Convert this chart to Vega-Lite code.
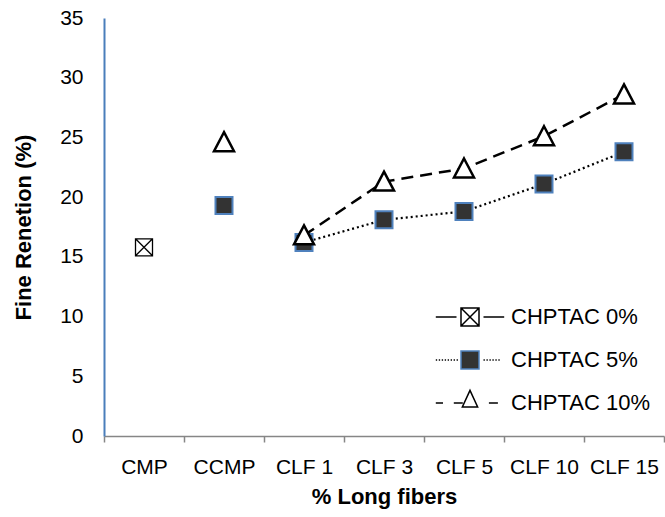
{
  "$schema": "https://vega.github.io/schema/vega-lite/v6.json",
  "width": 560,
  "height": 418,
  "autosize": "none",
  "padding": {"left": 104, "top": 18, "right": 1, "bottom": 81},
  "config": {
    "view": {"stroke": null},
    "font": "Liberation Sans",
    "axis": {"grid": false, "labelColor": "black", "titleColor": "black", "labelFont": "Liberation Sans", "titleFont": "Liberation Sans"},
    "legend": {"labelFont": "Liberation Sans", "labelColor": "black"}
  },
  "data": {
    "values": [
      {"sample": "CMP", "series": "CHPTAC 0%", "value": 15.8},
      {"sample": "CCMP", "series": "CHPTAC 5%", "value": 19.3},
      {"sample": "CCMP", "series": "CHPTAC 10%", "value": 24.6},
      {"sample": "CLF 1", "series": "CHPTAC 5%", "value": 16.2},
      {"sample": "CLF 1", "series": "CHPTAC 10%", "value": 16.8},
      {"sample": "CLF 3", "series": "CHPTAC 5%", "value": 18.1},
      {"sample": "CLF 3", "series": "CHPTAC 10%", "value": 21.3},
      {"sample": "CLF 5", "series": "CHPTAC 5%", "value": 18.8},
      {"sample": "CLF 5", "series": "CHPTAC 10%", "value": 22.4},
      {"sample": "CLF 10", "series": "CHPTAC 5%", "value": 21.1},
      {"sample": "CLF 10", "series": "CHPTAC 10%", "value": 25.1},
      {"sample": "CLF 15", "series": "CHPTAC 5%", "value": 23.8},
      {"sample": "CLF 15", "series": "CHPTAC 10%", "value": 28.6}
    ]
  },
  "encoding": {
    "x": {
      "field": "sample",
      "type": "nominal",
      "sort": ["CMP", "CCMP", "CLF 1", "CLF 3", "CLF 5", "CLF 10", "CLF 15"],
      "scale": {"type": "band", "paddingInner": 0, "paddingOuter": 0},
      "axis": {
        "title": "% Long fibers",
        "titleFontSize": 22,
        "titleFontWeight": "bold",
        "titlePadding": 9,
        "labelFontSize": 21,
        "labelAngle": 0,
        "labelPadding": 14,
        "tickBand": "extent",
        "tickSize": 6,
        "tickWidth": 1.5,
        "tickColor": "#868686",
        "domainColor": "#868686",
        "domainWidth": 1.5
      }
    },
    "y": {
      "field": "value",
      "type": "quantitative",
      "scale": {"domain": [0, 35], "nice": false},
      "axis": {
        "title": "Fine Renetion (%)",
        "titleFontSize": 22,
        "titleFontWeight": "bold",
        "titlePadding": 24,
        "values": [0, 5, 10, 15, 20, 25, 30, 35],
        "labelFontSize": 21,
        "labelPadding": 21,
        "ticks": false,
        "tickSize": 0,
        "domainColor": "#4A7EBB",
        "domainWidth": 2
      }
    }
  },
  "layer": [
    {
      "transform": [{"filter": "datum.series === 'CHPTAC 5%' && datum.sample !== 'CMP' && datum.sample !== 'CCMP'"}],
      "mark": {"type": "line", "color": "black", "strokeWidth": 2.2, "strokeDash": [2, 3]}
    },
    {
      "transform": [{"filter": "datum.series === 'CHPTAC 10%' && datum.sample !== 'CMP' && datum.sample !== 'CCMP'"}],
      "mark": {"type": "line", "color": "black", "strokeWidth": 2.5, "strokeDash": [12, 7]}
    },
    {
      "transform": [{"filter": "datum.series === 'CHPTAC 0%'"}],
      "mark": {"type": "point", "shape": "M-1,-1H1V1H-1ZM-1,-1L1,1M1,-1L-1,1", "size": 289, "filled": true, "fill": "white", "stroke": "black", "strokeWidth": 1.3, "opacity": 1}
    },
    {
      "transform": [{"filter": "datum.series === 'CHPTAC 5%'"}],
      "mark": {"type": "point", "shape": "M-1,-1H1V1H-1Z", "size": 289, "filled": true, "fill": "#333333", "stroke": "#4F81BD", "strokeWidth": 2, "opacity": 1}
    },
    {
      "transform": [{"filter": "datum.series === 'CHPTAC 10%'"}],
      "mark": {"type": "point", "shape": "M0,-1L1,0.9L-1,0.9Z", "size": 400, "filled": true, "fill": "white", "stroke": "black", "strokeWidth": 2.5, "opacity": 1}
    },
    {
      "transform": [{"filter": "false"}],
      "mark": {"type": "point", "filled": true, "fill": "white", "stroke": "black", "strokeWidth": 2, "opacity": 1},
      "encoding": {
        "shape": {
          "field": "series",
          "type": "nominal",
          "scale": {
            "domain": ["CHPTAC 0%", "CHPTAC 5%", "CHPTAC 10%"],
            "range": [
              "M0,-1.4M0,1.4M-3.8,0H-1.5M-1,-1H1V1H-1ZM-1,-1L1,1M1,-1L-1,1M1.5,0H3.8",
              "M0,-1.4M0,1.4M-3.8,0h0.15M-3.47,0h0.15M-3.14,0h0.15M-2.81,0h0.15M-2.48,0h0.15M-2.15,0h0.15M-1.82,0h0.15M-1.49,0h0.15M1.5,0h0.15M1.83,0h0.15M2.16,0h0.15M2.49,0h0.15M2.82,0h0.15M3.15,0h0.15",
              "M0,-1.4M0,1.4M-3.8,0H-3M-1.8,0H-0.8M0,-1.4L0.85,0.45L-0.85,0.45ZM2.1,0H3.1"
            ]
          },
          "legend": {
            "title": null,
            "orient": "none",
            "legendX": 355,
            "legendY": 288,
            "symbolSize": 324,
            "labelOffset": 30,
            "labelFontSize": 22,
            "rowPadding": 11,
            "encode": {
              "symbols": {"update": {"fill": {"value": "white"}, "stroke": {"value": "black"}, "strokeWidth": {"value": 1.8}, "opacity": {"value": 1}}}
            }
          }
        }
      }
    },
    {
      "transform": [{"filter": "false"}],
      "mark": {"type": "point", "filled": true, "fill": "#333333", "stroke": "#4F81BD", "strokeWidth": 2, "opacity": 1},
      "encoding": {
        "shape": {
          "field": "series",
          "type": "nominal",
          "scale": {
            "domain": ["CHPTAC 0%", "CHPTAC 5%", "CHPTAC 10%"],
            "range": ["M0,-1.4M0,1.4M-3.8,0M3.8,0", "M0,-1.4M0,1.4M-3.8,0M3.8,0M-1,-1H1V1H-1Z", "M0,-1.4M0,1.4M-3.8,0M3.8,0"]
          },
          "legend": {
            "title": null,
            "orient": "none",
            "legendX": 355,
            "legendY": 288,
            "symbolSize": 324,
            "labelOffset": 30,
            "labelFontSize": 22,
            "labelExpr": "''",
            "rowPadding": 11,
            "encode": {
              "symbols": {"update": {"fill": {"value": "#333333"}, "stroke": {"value": "#4F81BD"}, "strokeWidth": {"value": 2}, "opacity": {"value": 1}}}
            }
          }
        }
      }
    }
  ],
  "resolve": {"scale": {"shape": "independent"}, "legend": {"shape": "independent"}}
}
